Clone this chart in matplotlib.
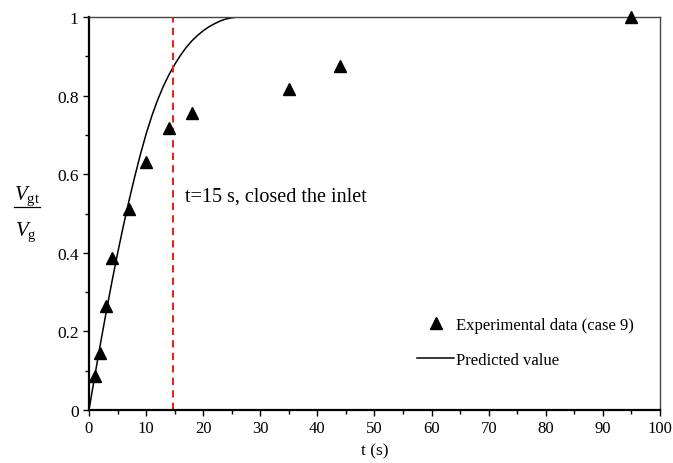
import matplotlib
matplotlib.use('Agg')
import matplotlib.pyplot as plt
from matplotlib.lines import Line2D
from matplotlib.ticker import MultipleLocator, FormatStrFormatter

plt.rcParams['font.family'] = ['Liberation Serif', 'DejaVu Serif']
plt.rcParams['mathtext.fontset'] = 'custom'
plt.rcParams['mathtext.rm'] = 'Liberation Serif'
plt.rcParams['mathtext.it'] = 'Liberation Serif:italic'

# experimental data (case 9)
exp_t = [1, 2, 3, 4, 7, 10, 14, 18, 35, 44, 95]
exp_v = [0.086, 0.145, 0.265, 0.388, 0.511, 0.632, 0.718, 0.755, 0.817, 0.876, 1.0]

# predicted curve
pred_t = [0, 1, 2, 3, 4, 5, 6, 7, 8, 9, 10, 11, 12, 13, 14, 15, 16, 17, 18,
          19, 20, 21, 22, 23, 24, 25, 26, 100]
pred_v = [0, 0.085, 0.168, 0.248, 0.325, 0.398, 0.467, 0.532, 0.593, 0.650,
          0.702, 0.748, 0.788, 0.823, 0.853, 0.879, 0.902, 0.922, 0.939, 0.953,
          0.965, 0.975, 0.983, 0.990, 0.995, 0.998, 1.0, 1.0]

close_t = 14.8

W, H = 673, 464
fig = plt.figure(figsize=(W / 100, H / 100), dpi=100)
ax = fig.add_axes([0.1322, 0.1142, 0.8485, 0.847])

ax.plot(pred_t, pred_v, color='black', linewidth=1.1, label='Predicted value')
ax.plot(exp_t, exp_v, linestyle='none', marker='^', color='black',
        markersize=8.5, clip_on=False, zorder=5, label='Experimental data (case 9)')
ax.plot([close_t, close_t], [0, 1], color='#e8241f', linewidth=1.5,
        linestyle=(0, (3.5, 2.5)))

ax.text(16.9, 0.545, 't=15 s, closed the inlet', fontsize=14.5, va='center')

ax.set_xlim(0, 100)
ax.set_ylim(0, 1)
ax.xaxis.set_major_locator(MultipleLocator(10))
ax.xaxis.set_minor_locator(MultipleLocator(5))
ax.yaxis.set_major_locator(MultipleLocator(0.2))
ax.yaxis.set_minor_locator(MultipleLocator(0.1))
ax.yaxis.set_major_formatter(FormatStrFormatter('%g'))
ax.tick_params(which='both', direction='out', width=1)
ax.tick_params(axis='x', labelsize=12)
ax.tick_params(axis='y', labelsize=12.5)
ax.tick_params(which='major', length=4)
ax.tick_params(which='minor', length=3)

for s in ['left', 'bottom']:
    ax.spines[s].set_linewidth(1.6)
for s in ['top', 'right']:
    ax.spines[s].set_linewidth(1.0)
    ax.spines[s].set_color('#444444')

ax.set_xlabel('t (s)', fontsize=12.5, labelpad=4)

# y label drawn as a stacked fraction V_gt / V_g
fig.text(26.7 / W, 1 - 199.5 / H, r'$V_{\mathrm{gt}}$', fontsize=15,
         ha='center', va='baseline')
fig.text(25.5 / W, 1 - 236.5 / H, r'$V_{\mathrm{g}}$', fontsize=15,
         ha='center', va='baseline')
fig.add_artist(Line2D([14 / W, 39.5 / W], [1 - 208.3 / H] * 2,
                      color='black', linewidth=0.9, transform=fig.transFigure))

h, l = ax.get_legend_handles_labels()
ax.legend(h[::-1], l[::-1], loc='lower right', bbox_to_anchor=(0.98, 0.07),
          frameon=False, fontsize=12, handlelength=2.2, handletextpad=0.1,
          labelspacing=1.1)

fig.savefig('out.png', dpi=100)
